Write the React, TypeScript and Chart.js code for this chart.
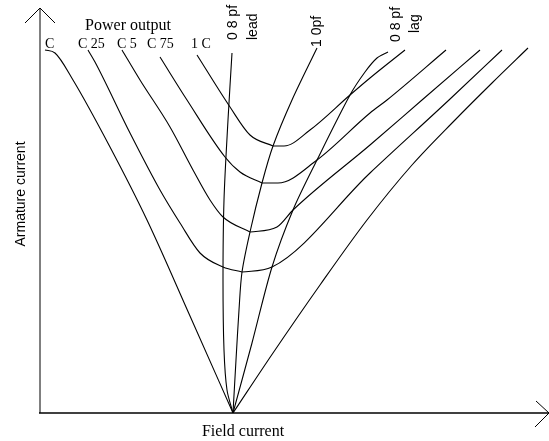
import React, { useEffect, useRef } from "react";
import { Chart, registerables } from "chart.js";

Chart.register(...registerables);

// Field current (x) vs armature current (y), arbitrary units
// V-curves for power output 0, 0.25, 0.5, 0.75, 1.0 (left and right branches)
const p0Left: number[][] = [[0.6, 36.3], [1.6, 36.0], [3.4, 33.3], [7.1, 26.6], [10.8, 19.3], [15.1, 9.7], [19.4, 0]];
const p0Right: number[][] = [[19.4, 0], [23.4, 6.0], [28.1, 12.8], [32.8, 19.3], [37.3, 24.8], [41.6, 29.3], [45.3, 33.0], [48.9, 36.5]];

const p25Left: number[][] = [[4.9, 36.3], [5.6, 35.1], [9.1, 28.0], [12.1, 22.3], [14.1, 19.0], [16.1, 16.0], [18.4, 14.6], [20.3, 14.1]];
const p25Right: number[][] = [[20.3, 14.1], [23.3, 14.6], [33.1, 24.0], [41.0, 31.3], [46.3, 36.3]];

const p50Left: number[][] = [[8.3, 36.3], [10.1, 33.3], [13.1, 28.6], [15.4, 24.3], [17.1, 21.3], [18.4, 19.6], [21.1, 18.1]];
const p50Right: number[][] = [[21.1, 18.1], [23.8, 18.6], [25.4, 20.3], [33.1, 26.8], [38.3, 31.3], [44.1, 36.3]];

const p75Left: number[][] = [[12.1, 35.6], [14.8, 31.3], [18.6, 25.6], [20.1, 24.1], [22.3, 23.0]];
const p75Right: number[][] = [[22.3, 23.0], [23.9, 23.0], [27.8, 25.3], [33.1, 30.0], [34.8, 31.3], [40.7, 36.3]];

const p100Left: number[][] = [[15.8, 35.8], [19.1, 30.6], [21.1, 27.8], [23.4, 26.7]];
const p100Right: number[][] = [[23.4, 26.7], [24.5, 26.7], [27.1, 28.3], [31.1, 31.8], [33.1, 33.5], [36.6, 36.3]];

// Compounding curves (constant power factor)
const pfLead08: number[][] = [[19.4, 0], [18.8, 2.3], [18.5, 6.3], [18.4, 13.3], [18.5, 21.3], [18.9, 29.3], [19.3, 36.0]];
const pfUnity: number[][] = [[19.4, 0], [19.7, 5.3], [20.0, 10.3], [20.3, 14.1], [21.1, 18.1], [22.3, 23.0], [23.4, 26.7], [25.3, 31.3], [27.8, 36.5]];
const pfLag08: number[][] = [[19.4, 0], [21.3, 7.0], [23.3, 14.6], [25.4, 20.3], [27.8, 25.3], [31.1, 31.8], [32.6, 34.1], [33.8, 35.5], [34.9, 36.1]];

const powerLabels = ["C", "C 25", "C 5", "C 75", "1 C"];
const X_MAX = 51;
const Y_MAX = 40.5;

const SERIF = '"Liberation Serif", "Times New Roman", serif';
const SANS = '"Liberation Sans", Arial, sans-serif';

const toPts = (a: number[][]) => a.map(([x, y]) => ({ x, y }));

const decorPlugin = {
  id: "decor",
  afterDraw(chart: any) {
    const ctx: CanvasRenderingContext2D = chart.ctx;
    const xs = chart.scales.x;
    const ys = chart.scales.y;
    const x0 = xs.getPixelForValue(0);
    const y0 = ys.getPixelForValue(0);
    const xEnd = xs.getPixelForValue(X_MAX);
    const yTop = ys.getPixelForValue(Y_MAX);
    ctx.save();
    // y axis
    ctx.strokeStyle = "#000";
    ctx.lineWidth = 1;
    ctx.beginPath();
    ctx.moveTo(x0 + 1, y0);
    ctx.lineTo(x0 + 1, yTop);
    ctx.moveTo(x0 - 14, yTop + 15);
    ctx.lineTo(x0 + 1, yTop);
    ctx.lineTo(x0 + 16, yTop + 15);
    ctx.stroke();
    // x axis
    ctx.lineWidth = 1.6;
    ctx.beginPath();
    ctx.moveTo(x0, y0);
    ctx.lineTo(xEnd, y0);
    ctx.stroke();
    ctx.lineWidth = 1;
    ctx.beginPath();
    ctx.moveTo(xEnd - 13, y0 - 12);
    ctx.lineTo(xEnd, y0);
    ctx.lineTo(xEnd - 14, y0 + 14);
    ctx.stroke();

    ctx.fillStyle = "#000";
    // Power output title and labels
    ctx.font = `16px ${SERIF}`;
    ctx.textAlign = "center";
    ctx.textBaseline = "alphabetic";
    ctx.fillText("Power output", 128, 30);
    ctx.font = `14px ${SERIF}`;
    ctx.textAlign = "left";
    const starts = [p0Left, p25Left, p50Left, p75Left, p100Left];
    const offs = [0, -10, -5, -13, -6];
    powerLabels.forEach((t, i) => {
      const px = xs.getPixelForValue(starts[i][0][0]) + offs[i];
      ctx.fillText(t, px, 48);
    });
    // x axis title
    ctx.font = `16px ${SERIF}`;
    ctx.textAlign = "center";
    ctx.fillText("Field current", 243, 436);

    // rotated labels
    const rot = (text: string, bx: number, by: number, align: CanvasTextAlign, font: string) => {
      ctx.save();
      ctx.translate(bx, by);
      ctx.rotate(-Math.PI / 2);
      ctx.font = font;
      ctx.textAlign = align;
      ctx.textBaseline = "alphabetic";
      ctx.fillText(text, 0, 0);
      ctx.restore();
    };
    const f14 = `14px ${SANS}`;
    rot("Armature current", 25, 194, "center", f14);
    rot("0 8 pf", 237, 40, "left", f14);
    rot("lead", 257, 40, "left", f14);
    rot("1 0pf", 321, 47, "left", f14);
    rot("0 8 pf", 400, 42, "left", f14);
    rot("lag", 419, 33, "left", f14);
    ctx.restore();
  },
};

export default function App() {
  const ref = useRef<HTMLCanvasElement | null>(null);
  useEffect(() => {
    document.body.style.margin = "0";
    const canvas = ref.current;
    if (!canvas) return;
    const vBranches = [
      p0Left, p0Right, p25Left, p25Right, p50Left, p50Right,
      p75Left, p75Right, p100Left, p100Right,
    ];
    const pfCurves = [pfLead08, pfUnity, pfLag08];
    const base = {
      showLine: true,
      borderColor: "#000",
      borderWidth: 1.1,
      pointRadius: 0,
      fill: false,
    };
    const chart = new Chart(canvas, {
      type: "scatter",
      data: {
        datasets: [
          ...vBranches.map((c) => ({ ...base, data: toPts(c), cubicInterpolationMode: "monotone" })),
          ...pfCurves.map((c) => ({ ...base, data: toPts(c), tension: 0.3 })),
        ],
      },
      options: {
        animation: false,
        responsive: false,
        devicePixelRatio: 1,
        layout: { padding: { left: 39, right: 0, top: 8, bottom: 28 } },
        plugins: { legend: { display: false }, tooltip: { enabled: false }, title: { display: false } },
        scales: {
          x: { type: "linear", min: 0, max: X_MAX, display: false },
          y: { type: "linear", min: 0, max: Y_MAX, display: false },
        },
      },
      plugins: [decorPlugin],
    } as any);
    return () => chart.destroy();
  }, []);
  return (
    <div style={{ width: 549, height: 441, background: "#fff" }}>
      <canvas ref={ref} width={549} height={441} style={{ display: "block" }} />
    </div>
  );
}
